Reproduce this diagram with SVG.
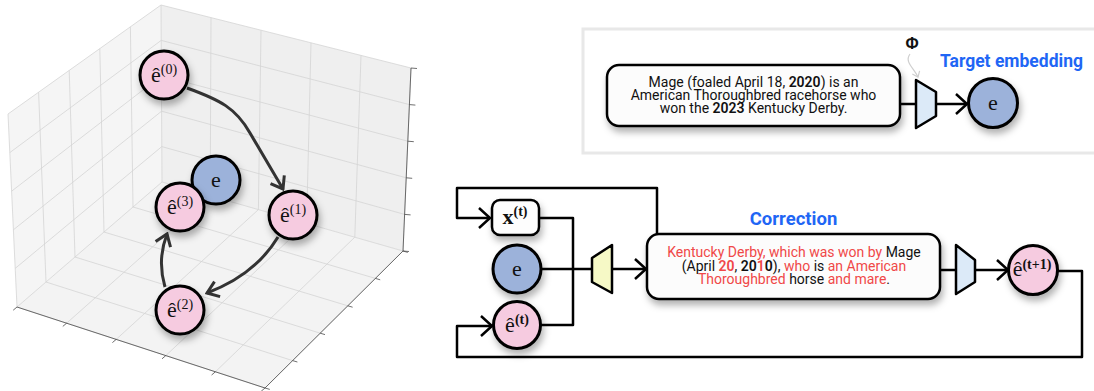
<svg xmlns="http://www.w3.org/2000/svg" width="1094" height="391" viewBox="0 0 1094 391">
<style>
.grid{stroke:#d4d4d4;stroke-width:0.8;fill:none}
.axis{stroke:#4a4a4a;stroke-width:0.8;fill:none}
.pink{fill:#f6cbe0;stroke:#000;stroke-width:3}
.blue{fill:#9cb2da;stroke:#000;stroke-width:3}
.ln{fill:none;stroke:#000;stroke-width:2.5;stroke-linejoin:round}
.arr3{fill:none;stroke:#333;stroke-width:3}
.body{font-family:Roboto,'Liberation Sans',sans-serif;font-size:14px;fill:#111}
.red{fill:#f04848}
.b{font-weight:600}
.m{font-family:'Liberation Serif','DejaVu Serif',serif;font-size:22px;fill:#111}
.sup{font-size:14px}
.title{font-family:Roboto,'Liberation Sans',sans-serif;font-weight:bold;fill:#1f66f5}
.box{fill:#fcfcfc;stroke:#000;stroke-width:2.5}
</style>
<defs>
<filter id="sh" x="-40%" y="-40%" width="190%" height="200%">
<feDropShadow dx="2" dy="5" stdDeviation="3.5" flood-color="#000" flood-opacity="0.3"/>
</filter>
<marker id="ah" viewBox="-14 -12 16 24" refX="0" refY="0" markerWidth="16" markerHeight="24" orient="auto" markerUnits="userSpaceOnUse">
<path d="M-11,-10 L0,0 L-11,10" fill="none" stroke="#000" stroke-width="2.5"/>
</marker>
<marker id="ah3" viewBox="-14 -12 16 24" refX="0" refY="0" markerWidth="16" markerHeight="24" orient="auto" markerUnits="userSpaceOnUse">
<path d="M-11,-8 L0,0 L-11,8" fill="none" stroke="#333" stroke-width="3"/>
</marker>
<marker id="ahg" viewBox="-8 -6 10 12" refX="0" refY="0" markerWidth="10" markerHeight="12" orient="auto" markerUnits="userSpaceOnUse">
<path d="M-5,-4 L0,0 L-5,4" fill="none" stroke="#cfcfcf" stroke-width="1.2"/>
</marker>
</defs>
<rect width="1094" height="391" fill="#fff"/>

<!-- 3D axes -->
<g id="axes3d">
<polygon points="162,182 17,307 8,114 161,5" fill="#f5f5f5"/>
<polygon points="162,182 403,251 411,68 161,5" fill="#efefef"/>
<polygon points="162,182 403,251 265,388 17,307" fill="#f3f3f3"/>
<path class="grid" d="M162,182 L161,5 M133,207 L130.4,26.8 M104,232 L99.8,48.6 M75,257 L69.2,70.4 M46,282 L38.6,92.2 M17,307 L8,114
M162,182 L17,307 M161.8,146.6 L15.2,268.4 M161.6,111.2 L13.4,229.8 M161.4,75.8 L11.6,191.2 M161.2,40.4 L9.8,152.6 M161,5 L8,114"/>
<path class="grid" d="M210.2,195.8 L211,17.6 M258.4,209.6 L261,30.2 M306.6,223.4 L311,42.8 M354.8,237.2 L361,55.4 M403,251 L411,68
M162,182 L403,251 M161.8,146.6 L404.6,214.4 M161.6,111.2 L406.2,177.8 M161.4,75.8 L407.8,141.2 M161.2,40.4 L409.4,104.6 M161,5 L411,68"/>
<path class="grid" d="M210.2,195.8 L66.6,323.2 M258.4,209.6 L116.2,339.4 M306.6,223.4 L165.8,355.6 M354.8,237.2 L215.4,371.8 M403,251 L265,388
M133,207 L375.4,278.4 M104,232 L347.8,305.8 M75,257 L320.2,333.2 M46,282 L292.6,360.6 M17,307 L265,388"/>
<path class="axis" d="M17,307 L265,388 L403,251 L411,68
M17,307 l-3.8,3.2 M66.6,323.2 l-3.8,3.2 M116.2,339.4 l-3.8,3.2 M165.8,355.6 l-3.8,3.2 M215.4,371.8 l-3.8,3.2 M265,388 l-3.8,3.2
M403,251 l4.8,1.4 M375.4,278.4 l4.8,1.4 M347.8,305.8 l4.8,1.4 M320.2,333.2 l4.8,1.4 M292.6,360.6 l4.8,1.4 M265,388 l4.8,1.4
M403,251 l6,0.5 M404.6,214.4 l6,0.5 M406.2,177.8 l6,0.5 M407.8,141.2 l6,0.5 M409.4,104.6 l6,0.5 M411,68 l6,0.5"/>
</g>

<!-- Target embedding panel background -->
<g id="panel_target">
<rect x="583" y="29" width="530" height="124" fill="#fff" stroke="#e8e8e8" stroke-width="3"/>
<text class="title" x="940" y="67" font-size="17.5">Target embedding</text>
<text x="912" y="49" text-anchor="middle" font-family="'Liberation Sans','DejaVu Sans',sans-serif" font-weight="bold" font-size="16" fill="#111">Φ</text>
</g>

<!-- connectors -->
<g id="connectors">
<path class="arr3" d="M187,88 C220,100 236,108 250,133 L283,189" marker-end="url(#ah3)"/>
<path class="arr3" d="M278,237 Q255,275 207,293" marker-end="url(#ah3)"/>
<path class="arr3" d="M165,287 Q157,260 167,234" marker-end="url(#ah3)"/>
<path d="M910,54 C904,62 914,68 918,77" fill="none" stroke="#cfcfcf" stroke-width="1.2" marker-end="url(#ahg)"/>
<path class="ln" d="M900,104 H916"/>
<path class="ln" d="M936,104 H967" marker-end="url(#ah)"/>
<path class="ln" d="M657,234 V188 H457 V218 H490" marker-end="url(#ah)"/>
<path class="ln" d="M539,218 H573 V325 H541"/>
<path class="ln" d="M541,269 H592"/>
<path class="ln" d="M612,269 H646" marker-end="url(#ah)"/>
<path class="ln" d="M940,270 H956"/>
<path class="ln" d="M975,270 H1008" marker-end="url(#ah)"/>
<path class="ln" d="M1057,271 H1082 V357 H457 V326 H492" marker-end="url(#ah)"/>
</g>

<!-- 3D nodes -->
<g id="n_e0">
<circle class="pink" cx="164" cy="75" r="24" filter="url(#sh)"/>
<text class="m" x="164" y="82" text-anchor="middle">ê<tspan class="sup" dy="-8">(0)</tspan></text>
</g>
<g id="n_e1">
<circle class="pink" cx="293" cy="215" r="24" filter="url(#sh)"/>
<text class="m" x="293" y="222" text-anchor="middle">ê<tspan class="sup" dy="-8">(1)</tspan></text>
</g>
<g id="n_e2">
<circle class="pink" cx="180" cy="310" r="24" filter="url(#sh)"/>
<text class="m" x="180" y="317" text-anchor="middle">ê<tspan class="sup" dy="-8">(2)</tspan></text>
</g>
<g id="n_target3d">
<circle class="blue" cx="216" cy="180" r="24" filter="url(#sh)"/>
<text class="m" x="216" y="187" text-anchor="middle" font-size="28">e</text>
</g>
<g id="n_e3">
<circle class="pink" cx="180" cy="207" r="24" filter="url(#sh)"/>
<text class="m" x="180" y="214" text-anchor="middle">ê<tspan class="sup" dy="-8">(3)</tspan></text>
</g>

<!-- Target embedding -->
<g id="n_sentence">
<rect class="box" x="607" y="65" width="293" height="61" rx="12" filter="url(#sh)"/>
<text class="body" x="753.5" y="86.7" text-anchor="middle">Mage (foaled April 18, <tspan class="b">2020</tspan>) is an</text>
<text class="body" x="753.5" y="100" text-anchor="middle">American Thoroughbred racehorse who</text>
<text class="body" x="753.5" y="113.3" text-anchor="middle">won the <tspan class="b">2023</tspan> Kentucky Derby.</text>
</g>
<g id="n_encoder_top">
<polygon points="916,80 936,92 936,116 916,128" fill="#dceaf8" stroke="#000" stroke-width="2.5" stroke-linejoin="round"/>
</g>
<g id="n_e_top">
<circle class="blue" cx="993" cy="103" r="24.5" filter="url(#sh)"/>
<text class="m" x="993" y="110" text-anchor="middle" font-size="28">e</text>
</g>

<!-- Correction loop -->
<g id="n_x">
<rect x="492" y="200" width="47" height="35" rx="8" fill="#fdfdfd" stroke="#000" stroke-width="2.5" filter="url(#sh)"/>
<text class="m" x="515" y="224" text-anchor="middle" font-weight="bold" font-size="20">x<tspan class="sup" dy="-8">(t)</tspan></text>
</g>
<g id="n_e_mid">
<circle class="blue" cx="517" cy="269" r="24" filter="url(#sh)"/>
<text class="m" x="517" y="276" text-anchor="middle" font-size="28">e</text>
</g>
<g id="n_et">
<circle class="pink" cx="517" cy="325" r="23.5" filter="url(#sh)"/>
<text class="m" x="517" y="332" text-anchor="middle">ê<tspan class="sup" dy="-8" font-weight="bold">(t)</tspan></text>
</g>
<g id="n_decoder">
<polygon points="592,258 612,245 612,293 592,282" fill="#f6f9c6" stroke="#000" stroke-width="2.5" stroke-linejoin="round"/>
</g>
<g id="n_correction">
<text class="title" x="793.5" y="225" text-anchor="middle" font-size="18.5">Correction</text>
<rect class="box" x="647" y="234" width="293" height="65" rx="12" filter="url(#sh)"/>
<text class="body" x="794" y="257.3" text-anchor="middle"><tspan class="red">Kentucky Derby, which was won by</tspan> Mage</text>
<text class="body" x="794" y="270.7" text-anchor="middle">(April <tspan class="red b">20</tspan>, <tspan class="b">20</tspan><tspan class="red b">1</tspan><tspan class="b">0</tspan>), <tspan class="red">who</tspan> is <tspan class="red">an American</tspan></text>
<text class="body" x="794" y="284" text-anchor="middle"><tspan class="red">Thoroughbred</tspan> horse <tspan class="red">and mare</tspan>.</text>
</g>
<g id="n_encoder_bottom">
<polygon points="956,245 975,260 975,282 956,294" fill="#dceaf8" stroke="#000" stroke-width="2.5" stroke-linejoin="round"/>
</g>
<g id="n_et1">
<circle class="pink" cx="1033" cy="270" r="24.5" filter="url(#sh)"/>
<text class="m" x="1032" y="276" text-anchor="middle" font-size="19">ê<tspan class="sup" dy="-7" font-size="12" font-weight="bold">(t+1)</tspan></text>
</g>
</svg>
